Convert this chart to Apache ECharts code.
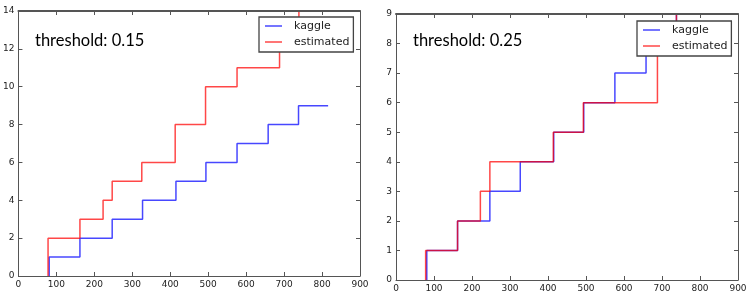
<!DOCTYPE html>
<html>
<head>
<meta charset="utf-8">
<script src="https://cdn.jsdelivr.net/npm/echarts@6/dist/echarts.min.js"></script>
<style>
html,body{margin:0;padding:0;background:#fff;}
#c{width:756px;height:302px;}
</style>
</head>
<body>
<div id="c"></div>
<script>
// ---- data ----
const xTicks = [0, 100, 200, 300, 400, 500, 600, 700, 800, 900];
const leftYTicks = [0, 2, 4, 6, 8, 10, 12, 14];
const rightYTicks = [0, 1, 2, 3, 4, 5, 6, 7, 8, 9];
const seriesNames = ['kaggle', 'estimated'];
const panelTitles = ['threshold: 0.15', 'threshold: 0.25'];

// kaggle (same in both panels)
const kaggleX = [81, 81, 162, 247, 327, 415, 494, 576, 658, 738, 816];
const kaggleY = [0, 1, 2, 3, 4, 5, 6, 7, 8, 9, 9];

// estimated, threshold 0.15
const est15X = [78, 78, 162, 223, 247, 325, 413, 493, 576, 688, 739, 816];
const est15Y = [0, 2, 3, 4, 5, 6, 8, 10, 11, 12, 15, 15];

// estimated, threshold 0.25
const est25X = [78, 78, 162, 222, 247, 414, 493, 688, 738, 816];
const est25Y = [0, 1, 2, 3, 4, 5, 6, 8, 10, 10];

function pairs(xs, ys) { return xs.map((x, i) => [x, ys[i]]); }

const BLUE = 'rgba(0,0,255,0.72)';
const RED = 'rgba(255,0,0,0.72)';
const SPINE = '#555';
const FONT = 'DejaVu Sans';

const grids = [
  { left: 16, top: 11, width: 344, height: 265 },
  { left: 396, top: 14, width: 342, height: 266 }
];
const yTickSets = [leftYTicks, rightYTicks];

function step(arr) { return arr[1] - arr[0]; }

const xAxis = [], yAxis = [];
grids.forEach((g, gi) => {
  const base = {
    gridIndex: gi,
    type: 'value',
    min: xTicks[0], max: xTicks[xTicks.length - 1], interval: step(xTicks),
    axisLine: { show: true, onZero: false, lineStyle: { color: SPINE, width: 1 } },
    axisTick: { show: true, inside: true, length: 4, lineStyle: { color: SPINE } },
    splitLine: { show: false }
  };
  xAxis.push(Object.assign({}, base, {
    position: 'bottom',
    axisLabel: { show: true, margin: 4, color: '#222', fontFamily: FONT, fontSize: 9 }
  }));
  xAxis.push(Object.assign({}, base, {
    position: 'top', z: 10,
    axisLine: { show: true, onZero: false, lineStyle: { color: SPINE, width: 2 } },
    axisLabel: { show: false }
  }));
  const yt = yTickSets[gi];
  const ybase = Object.assign({}, base, {
    min: yt[0], max: yt[yt.length - 1], interval: step(yt)
  });
  yAxis.push(Object.assign({}, ybase, {
    position: 'left',
    axisLabel: { show: true, margin: 4, color: '#222', fontFamily: FONT, fontSize: 9 }
  }));
  yAxis.push(Object.assign({}, ybase, {
    position: 'right', z: 10,
    axisLabel: { show: false }
  }));
});

function lineSeries(name, data, color, gi) {
  return {
    name: name, type: 'line', step: 'end',
    xAxisIndex: gi * 2, yAxisIndex: gi * 2,
    data: data, symbol: 'none', showSymbol: false,
    clip: true,
    color: color,
    lineStyle: { color: color, width: 1.5 },
    emphasis: { disabled: true },
    animation: false
  };
}

const series = [
  lineSeries(seriesNames[0], pairs(kaggleX, kaggleY), BLUE, 0),
  lineSeries(seriesNames[1], pairs(est15X, est15Y), RED, 0),
  lineSeries(seriesNames[0], pairs(kaggleX, kaggleY), BLUE, 1),
  lineSeries(seriesNames[1], pairs(est25X, est25Y), RED, 1)
];

function legend(left, top) {
  return {
    orient: 'vertical', left: left, top: top,
    padding: [3, 4, 4, 6],
    itemGap: 4,
    itemWidth: 17, itemHeight: 1.5,
    icon: 'rect',
    backgroundColor: '#fff',
    borderColor: '#444', borderWidth: 1.3, borderRadius: 0,
    selectedMode: false,
    textStyle: { fontFamily: FONT, fontSize: 11, color: '#222', lineHeight: 12, padding: [0, 0, 0, 7] },
    data: [
      { name: seriesNames[0], itemStyle: { color: BLUE } },
      { name: seriesNames[1], itemStyle: { color: RED } }
    ],
    z: 20
  };
}

const titleStyle = { fontFamily: 'Lato', fontSize: 16.5, fontWeight: 'normal', color: '#000' };

const option = {
  backgroundColor: '#fff',
  animation: false,
  title: [
    { text: panelTitles[0], left: 35, top: 32, padding: 0, textStyle: titleStyle },
    { text: panelTitles[1], left: 413, top: 32, padding: 0, textStyle: titleStyle }
  ],
  legend: [legend(259, 17), legend(637, 21)],
  grid: grids,
  xAxis: xAxis,
  yAxis: yAxis,
  series: series
};

const chart = echarts.init(document.getElementById('c'), null, { renderer: 'canvas' });
chart.setOption(option);
</script>
</body>
</html>
